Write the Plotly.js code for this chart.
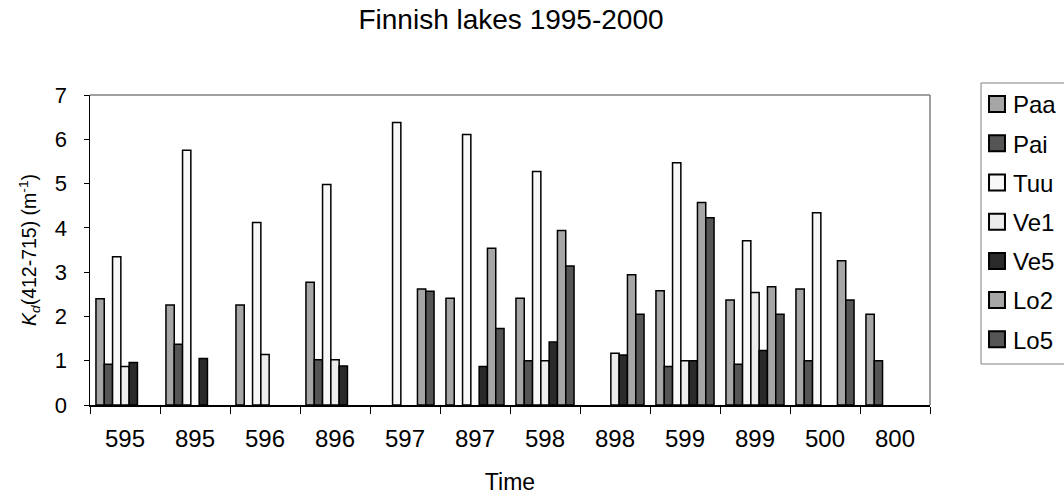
<!DOCTYPE html>
<html>
<head>
<meta charset="utf-8">
<script src="https://cdn.plot.ly/plotly-3.0.1.min.js"></script>
<style>
  html, body { margin: 0; padding: 0; background: #ffffff; }
  #chart { width: 1064px; height: 497px; }
</style>
</head>
<body>
<div id="chart"></div>
<script>
// Sampling dates (month + year digit) along the time axis
const periods = ['595', '895', '596', '896', '597', '897', '598', '898', '599', '899', '500', '800'];

// Kd(412-715) per lake, m^-1 (null = not sampled)
const paa = [2.40, 2.26, 2.26, 2.77, null, 2.41, 2.41, null, 2.58, 2.37, 2.62, 2.05];
const pai = [0.92, 1.37, null, 1.02, null, null, 1.00, null, 0.87, 0.92, 1.00, 1.00];
const tuu = [3.35, 5.75, 4.12, 4.98, 6.38, 6.11, 5.27, null, 5.47, 3.71, 4.34, null];
const ve1 = [0.87, null, 1.14, 1.02, null, null, 1.00, 1.17, 1.00, 2.54, null, null];
const ve5 = [0.96, 1.05, null, 0.88, null, 0.87, 1.42, 1.13, 1.00, 1.23, null, null];
const lo2 = [null, null, null, null, 2.62, 3.54, 3.94, 2.94, 4.57, 2.67, 3.26, null];
const lo5 = [null, null, null, null, 2.57, 1.73, 3.14, 2.05, 4.23, 2.05, 2.37, null];

const lakeNames = ['Paa', 'Pai', 'Tuu', 'Ve1', 'Ve5', 'Lo2', 'Lo5'];
const lakeValues = [paa, pai, tuu, ve1, ve5, lo2, lo5];
const lakeFills = ['#a6a6a6', '#555555', '#f8f8f8', '#ececec', '#2a2a2a', '#a6a6a6', '#555555'];

const FONT = 'Liberation Sans, Arial, sans-serif';

const traces = lakeNames.map((name, i) => ({
  type: 'bar',
  name: name,
  x: periods,
  y: lakeValues[i],
  legendgroup: name,
  marker: { color: lakeFills[i], line: { color: '#000000', width: 1.5 } },
  hoverinfo: 'x+y+name'
}));

const W = 1064, H = 497;
const plotL = 90, plotR = 930, plotT = 95, plotB = 405;

const layout = {
  width: W,
  height: H,
  paper_bgcolor: '#ffffff',
  plot_bgcolor: '#ffffff',
  font: { family: FONT, color: '#000000' },
  margin: { l: plotL, r: W - plotR, t: plotT, b: H - plotB, pad: 0, autoexpand: false },
  barmode: 'group',
  bargap: 0.17,
  bargroupgap: 0,
  showlegend: true,
  title: {
    text: 'Finnish lakes 1995-2000',
    font: { family: FONT, size: 28, color: '#000000' },
    xref: 'container', yref: 'container',
    x: 511 / W, y: 1 - 19 / H,
    xanchor: 'center', yanchor: 'middle'
  },
  xaxis: {
    type: 'category',
    tickson: 'boundaries',
    ticks: 'outside',
    ticklen: 7,
    tickwidth: 1,
    tickcolor: '#000000',
    showline: true,
    linecolor: '#000000',
    linewidth: 1.5,
    showgrid: false,
    zeroline: false,
    automargin: false,
    tickfont: { family: FONT, size: 24, color: '#000000' },
    ticklabelstandoff: 12,
    title: { text: 'Time', font: { family: FONT, size: 23, color: '#000000' }, standoff: 22 }
  },
  yaxis: {
    range: [0, 7],
    dtick: 1,
    ticks: 'outside',
    ticklen: 5,
    tickwidth: 1,
    tickcolor: '#000000',
    showline: true,
    linecolor: '#000000',
    linewidth: 1.5,
    showgrid: false,
    zeroline: false,
    automargin: false,
    tickfont: { family: FONT, size: 22, color: '#000000' },
    ticklabelstandoff: 12,
    title: {
      text: '<i>K<sub>d</sub></i>(412-715) (m<sup>-1</sup>)',
      font: { family: FONT, size: 19.5, color: '#000000' },
      standoff: 13
    }
  },
  legend: {
    xref: 'container', yref: 'container',
    x: (1013 - 40) / W,
    y: 1 - 82 / H,
    xanchor: 'left',
    yanchor: 'top',
    maxheight: 400,
    bgcolor: 'rgba(0,0,0,0)',
    borderwidth: 0,
    font: { family: FONT, size: 24, color: '#000000' },
    traceorder: 'grouped',
    tracegroupgap: 5
  },
  shapes: [
    // grey frame on the top and right of the plot area
    { type: 'line', xref: 'paper', yref: 'paper', x0: 0, x1: 1, y0: 1, y1: 1,
      line: { color: '#808080', width: 1.5 } },
    { type: 'line', xref: 'paper', yref: 'paper', x0: 1, x1: 1, y0: 0, y1: 1,
      line: { color: '#808080', width: 1.5 } },
    // legend box
    { type: 'rect', xref: 'paper', yref: 'paper',
      x0: (981 - plotL) / (plotR - plotL), x1: (1070 - plotL) / (plotR - plotL),
      y0: 1 - (364 - plotT) / (plotB - plotT), y1: 1 - (83 - plotT) / (plotB - plotT),
      line: { color: '#808080', width: 1 }, fillcolor: 'rgba(0,0,0,0)' }
  ]
};

Plotly.newPlot('chart', traces, layout, { displayModeBar: false, staticPlot: true }).then(gd => {
  // enlarge the legend swatches to 16px squares, nudged toward the labels
  gd.querySelectorAll('.legend .legendpoints path').forEach(p => {
    const t = p.getAttribute('transform') || '';
    p.setAttribute('transform', t + ' translate(4,0) scale(1.33)');
  });
});
</script>
</body>
</html>
